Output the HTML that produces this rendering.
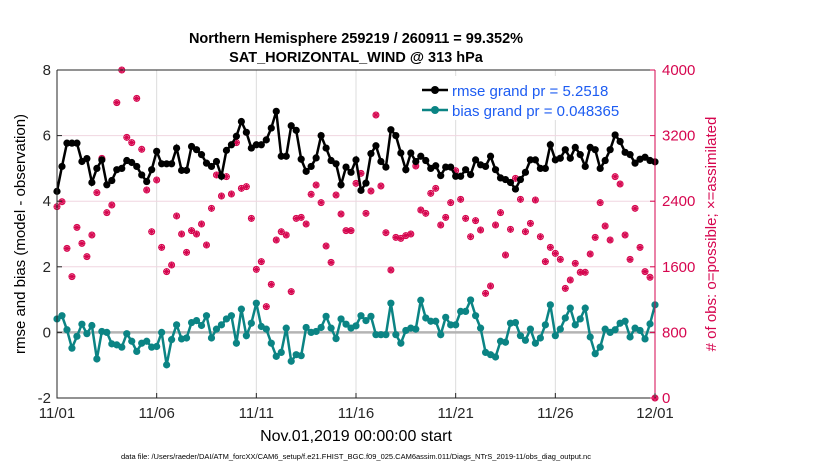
<!DOCTYPE html>
<html><head><meta charset="utf-8"><style>
body{margin:0;background:#fff;width:830px;height:470px;overflow:hidden;font-family:"Liberation Sans",sans-serif}
</style></head><body>
<svg id="chart" width="830" height="470" xmlns="http://www.w3.org/2000/svg" font-family="Liberation Sans, sans-serif">
<text x="356" y="43" text-anchor="middle" font-size="14.5" font-weight="bold">Northern Hemisphere 259219 / 260911 = 99.352%</text>
<text x="356" y="62" text-anchor="middle" font-size="14.5" font-weight="bold">SAT_HORIZONTAL_WIND @ 313 hPa</text>
<g id="grid"></g>
<g id="marks"></g>
<g id="axes"></g>
<text transform="translate(25,234) rotate(-90)" text-anchor="middle" font-size="15">rmse and bias (model - observation)</text>
<text fill="#d6064f" transform="translate(716,234) rotate(-90)" text-anchor="middle" font-size="15">#  of obs: o=possible; ×=assimilated</text>
<text x="356" y="441" text-anchor="middle" font-size="16">Nov.01,2019 00:00:00 start</text>
<text x="356" y="459" text-anchor="middle" font-size="7.5">data file: /Users/raeder/DAI/ATM_forcXX/CAM6_setup/f.e21.FHIST_BGC.f09_025.CAM6assim.011/Diags_NTrS_2019-11/obs_diag_output.nc</text>
<g>
<rect x="418" y="76" width="234" height="44" fill="#fff"/>
<line x1="422" y1="90" x2="448" y2="90" stroke="#000" stroke-width="2.5"/><circle cx="435" cy="90" r="4" fill="#000"/>
<text x="452" y="96" font-size="15" fill="#1d5cf2">rmse grand pr = 5.2518</text>
<line x1="422" y1="110" x2="448" y2="110" stroke="#0b8484" stroke-width="2.5"/><circle cx="435" cy="110" r="4" fill="#0b8484"/>
<text x="452" y="116" font-size="15" fill="#1d5cf2">bias grand pr = 0.048365</text>
</g>
</svg>
<script>
const rmse=[4.3,5.06,5.77,5.77,5.77,5.21,5.3,4.57,5.0,5.26,4.5,4.63,4.96,5.0,5.24,5.18,5.06,4.8,4.6,4.96,5.52,5.14,5.14,5.14,5.62,4.94,4.94,5.67,5.57,5.42,5.16,5.06,5.21,4.76,5.55,5.72,5.98,6.43,6.1,5.62,5.72,5.72,5.87,6.23,6.74,5.37,5.37,6.3,6.16,5.28,4.91,5.06,5.32,6.0,5.62,5.24,5.14,4.5,5.04,4.88,5.26,4.33,4.55,5.45,5.69,5.21,5.04,6.18,6.0,5.47,4.96,5.47,5.21,5.37,5.24,5.0,5.08,4.78,5.04,5.04,4.76,4.76,4.96,4.81,5.26,5.11,5.06,5.37,4.96,4.71,4.66,4.57,4.37,4.66,4.88,5.26,5.26,5.0,5.0,5.72,5.26,5.31,5.57,5.31,5.64,5.42,5.06,5.64,5.57,5.0,5.24,5.57,6.02,5.82,5.49,5.42,5.16,5.28,5.34,5.24,5.2];
const bias=[0.41,0.51,0.08,-0.48,-0.12,0.25,-0.04,0.21,-0.81,0.03,0,-0.35,-0.38,-0.45,-0.04,-0.27,-0.58,-0.33,-0.27,-0.45,-0.43,0,-0.99,-0.22,0.23,-0.2,-0.17,0.3,0.36,0.21,0.51,-0.17,0.1,0.23,0.41,0.51,-0.33,0.71,-0.1,0.28,0.89,0.18,0.1,-0.33,-0.73,-0.61,0.13,-0.88,-0.68,-0.71,0.15,0,0.03,0.15,0.49,0.13,-0.19,0.41,0.25,0.13,0.2,0.51,0.36,0.49,-0.07,-0.07,-0.07,0.89,-0.07,-0.33,0.06,0.13,0.1,0.98,0.44,0.34,0.34,-0.07,0.46,0.23,0.23,0.64,0.64,0.99,0.51,0.13,-0.61,-0.68,-0.75,-0.27,-0.3,0.28,0.3,-0.1,-0.24,0.1,-0.33,-0.17,0.23,0.84,-0.1,0.1,0.44,0.74,0.23,0.41,0.74,-0.14,-0.65,-0.45,0.1,0,0.08,0.28,0.34,-0.14,0.13,0.06,-0.2,0.26,0.84];
const obsPossible=[2333,2394,1825,1480,2081,1886,1724,1988,2504,2923,2260,2354,3602,4000,3179,3114,3654,3033,2537,2028,2659,1837,1541,1622,2220,2000,1776,2041,2000,2122,1866,2313,2720,2463,2699,2488,3114,2557,2577,2191,1569,1663,1114,1386,1927,2028,1988,1297,2191,2203,2122,2484,2598,2382,1854,1654,2476,2244,2041,2041,2618,2740,2252,2524,3451,2585,2016,1561,1959,1947,1980,2000,2829,2293,2252,2496,2557,2110,2203,2382,2772,2423,2191,1967,2163,2049,1276,1366,2110,2260,1744,2057,2679,2423,2028,2130,2415,1967,1663,1837,1764,1691,1337,1439,1642,1533,1533,1756,1959,2382,2098,1927,2699,2610,1988,1691,2313,1837,1541,1472,0];
const xTickLabels=["11/01","11/06","11/11","11/16","11/21","11/26","12/01"];
const xTickDays=[0,5,10,15,20,25,30];
const yLeftTicks=[-2,0,2,4,6,8];
const yRightTicks=[0,800,1600,2400,3200,4000];
const NS="http://www.w3.org/2000/svg";
const X0=57,X1=655,Y0=398,Y1=70;
const xDay=d=>X0+(X1-X0)*d/30;
const xIdx=i=>xDay(i/4);
const yL=v=>Y0-(v+2)/10*(Y0-Y1);
const yR=v=>Y0-v/4000*(Y0-Y1);
function mk(tag,attrs,parent){const e=document.createElementNS(NS,tag);for(const k in attrs)e.setAttribute(k,attrs[k]);parent.appendChild(e);return e;}
const grid=document.getElementById('grid'),marks=document.getElementById('marks'),axes=document.getElementById('axes');
mk('rect',{x:X0,y:Y1,width:X1-X0,height:Y0-Y1,fill:'#fff'},grid);
xTickDays.forEach(d=>{const l=mk('line',{x1:xDay(d),x2:xDay(d),y1:Y1,y2:Y0,stroke:'#dcdcdc','stroke-width':1},grid);

});
yRightTicks.forEach(v=>{const l=mk('line',{x1:X0,x2:X1,y1:yR(v),y2:yR(v),stroke:'#f0d6e0','stroke-width':1},grid);

});
const z=mk('line',{x1:X0,x2:X1,y1:yL(0),y2:yL(0),stroke:'#b4b4b4','stroke-width':2.5},grid);


// obs
obsPossible.forEach((v,i)=>{const g=mk('g',{},marks);


const cx=xIdx(i),cy=yR(v);
mk('circle',{cx:cx,cy:cy,r:3,fill:'none',stroke:'#d6064f','stroke-width':1},g);
let d='';for(let a=0;a<4;a++){const t=a*Math.PI/4;d+=`M${cx-3.3*Math.cos(t)},${cy-3.3*Math.sin(t)}L${cx+3.3*Math.cos(t)},${cy+3.3*Math.sin(t)}`;}
mk('path',{d:d,stroke:'#d6064f','stroke-width':1.2},g);});
function series(arr,col,name){const p=mk('polyline',{points:arr.map((v,i)=>xIdx(i)+','+yL(v)).join(' '),fill:'none',stroke:col,'stroke-width':2.5},marks);


arr.forEach((v,i)=>{const c=mk('circle',{cx:xIdx(i),cy:yL(v),r:3.6,fill:col},marks);

});}
series(bias,'#0b8484','bias');
series(rmse,'#000','rmse');
// axes
mk('path',{d:`M${X0},${Y1}L${X0},${Y0}L${X1},${Y0}M${X0},${Y1}L${X1},${Y1}`,fill:'none',stroke:'#262626','stroke-width':1},axes);
mk('line',{x1:X1,x2:X1,y1:Y1,y2:Y0,stroke:'#d6064f','stroke-width':1},axes);
xTickDays.forEach((d,k)=>{mk('line',{x1:xDay(d),x2:xDay(d),y1:Y0,y2:Y0-5,stroke:'#262626'},axes);
const t=mk('text',{x:xDay(d),y:Y0+20,'text-anchor':'middle','font-size':15,fill:'#262626'},axes);t.textContent=xTickLabels[k];

});
yLeftTicks.forEach(v=>{mk('line',{x1:X0,x2:X0+5,y1:yL(v),y2:yL(v),stroke:'#262626'},axes);
const t=mk('text',{x:X0-6,y:yL(v)+5,'text-anchor':'end','font-size':15,fill:'#262626'},axes);t.textContent=v;

});
yRightTicks.forEach(v=>{mk('line',{x1:X1,x2:X1-5,y1:yR(v),y2:yR(v),stroke:'#d6064f'},axes);
const t=mk('text',{x:X1+7,y:yR(v)+5,'font-size':15,fill:'#d6064f'},axes);t.textContent=v;

});
</script>
</body></html>
